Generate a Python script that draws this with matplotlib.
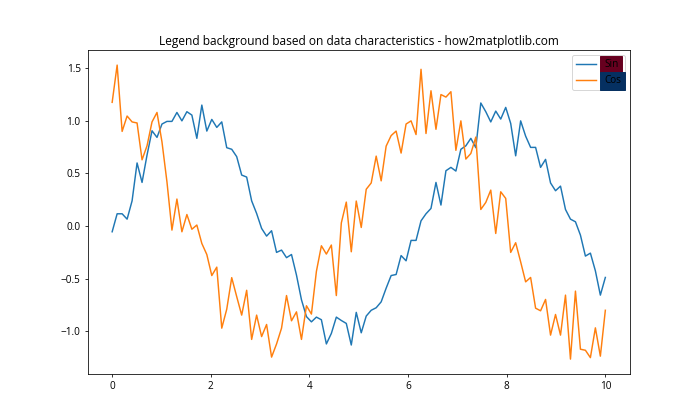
import matplotlib
matplotlib.use("Agg")
import matplotlib.pyplot as plt
import numpy as np

plt.rcParams['font.family'] = ['Open Sans', 'DejaVu Sans']
plt.rcParams['font.size'] = 10.3

x = np.linspace(0, 10, 100)

sin_vals = [
    -0.054, 0.117, 0.117, 0.066, 0.24, 0.60, 0.415, 0.675, 0.906, 0.843,
    0.97, 0.995, 0.995, 1.08, 1.00, 1.087, 1.055, 0.834, 1.15, 0.903,
    1.014, 0.938, 0.99, 0.745, 0.73, 0.66, 0.485, 0.466, 0.24, 0.12,
    -0.022, -0.095, -0.044, -0.25, -0.228, -0.30, -0.27, -0.466, -0.70, -0.86,
    -0.91, -0.865, -0.89, -1.12, -1.02, -0.865, -0.897, -0.925, -1.13, -0.82,
    -1.014, -0.855, -0.80, -0.776, -0.72, -0.59, -0.47, -0.46, -0.28, -0.33,
    -0.136, -0.136, 0.05, 0.117, 0.168, 0.415, 0.20, 0.526, 0.558, 0.523,
    0.73, 0.763, 0.834, 0.745, 1.17, 1.087, 0.99, 1.093, 1.017, 1.128,
    0.976, 0.668, 1.00, 0.855, 0.748, 0.748, 0.558, 0.634, 0.41, 0.336,
    0.38, 0.158, 0.066, 0.041, -0.086, -0.285, -0.257, -0.425, -0.656, -0.488,
]

cos_vals = [
    1.176, 1.53, 0.90, 1.046, 0.99, 0.98, 0.63, 0.763, 0.99, 1.08,
    0.80, 0.42, -0.038, 0.257, -0.054, 0.11, -0.03, 0.01, -0.165, -0.27,
    -0.47, -0.39, -0.97, -0.79, -0.49, -0.67, -0.846, -0.61, -1.077, -0.846,
    -1.05, -0.935, -1.245, -1.12, -0.97, -0.66, -0.90, -0.815, -1.077, -0.757,
    -0.836, -0.43, -0.187, -0.266, -0.18, -0.66, 0.03, 0.228, -0.244, 0.238,
    -0.013, 0.35, 0.41, 0.665, 0.43, 0.76, 0.86, 0.903, 0.694, 0.97,
    1.00, 0.87, 1.49, 0.88, 1.286, 0.92, 1.25, 1.226, 1.277, 0.72,
    1.00, 0.637, 0.69, 0.846, 0.158, 0.225, 0.342, -0.07, 0.326, 0.263,
    -0.25, -0.158, -0.34, -0.53, -0.488, -0.78, -0.805, -0.697, -1.036, -0.84,
    -1.036, -0.656, -1.264, -0.618, -1.17, -1.18, -1.25, -0.967, -1.236, -0.80,
]

labels = ["Sin", "Cos"]

fig, ax = plt.subplots(figsize=(10, 6), dpi=70)
ax.plot(x, sin_vals, label=labels[0])
ax.plot(x, cos_vals, label=labels[1])
ax.set_title("Legend background based on data characteristics - how2matplotlib.com")

leg = ax.legend(loc='upper right')
cmap = plt.cm.RdBu
for i, text in enumerate(leg.get_texts()):
    text.set_backgroundcolor(cmap(float(i)))

fig.savefig("out.png", dpi=70)
